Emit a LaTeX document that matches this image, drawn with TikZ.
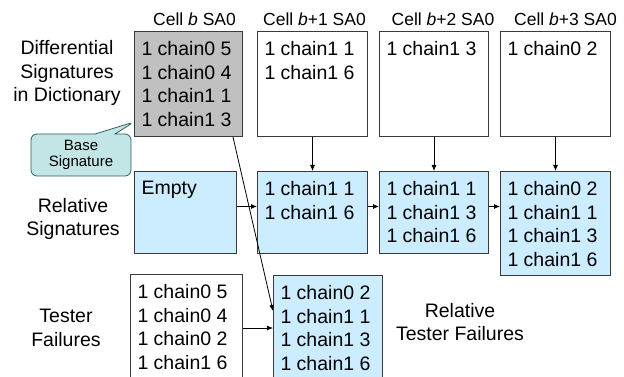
\documentclass[tikz,border=0pt]{standalone}
\usepackage{fontspec}
\setmainfont{Liberation Sans}
\usetikzlibrary{positioning,arrows.meta,shapes.callouts}

\definecolor{boxline}{HTML}{3A3A3A}
\definecolor{sigfill}{HTML}{C0C0C0}
\definecolor{relfill}{HTML}{CCECFF}
\definecolor{notefill}{HTML}{C2E5E5}
\definecolor{noteline}{HTML}{2F5F5F}

\newcommand{\sig}[3]{\parbox[t][#2pt][t]{#1pt}{#3}}

\begin{document}
\begin{tikzpicture}[x=1pt,y=-1pt]
\tikzstyle{cell}=[draw=boxline,line width=1pt,anchor=north west,inner xsep=7pt,inner ysep=10pt,font=\fontsize{19.5}{23.5}\selectfont]
\tikzstyle{rel}=[cell,fill=relfill]
\tikzstyle{head}=[font=\fontsize{17.5}{21}\selectfont]
\tikzstyle{caption}=[align=center,font=\fontsize{19.5}{23.5}\selectfont]
\tikzstyle{link}=[->,>={Latex[length=6pt,width=5pt]},line width=0.8pt]
\useasboundingbox (0,0) rectangle (624,377);
\clip (0,0) rectangle (624,377);

\node[cell,fill=sigfill] (c0) at (134,31) {\sig{94}{85}{1 chain0 5\\1 chain0 4\\1 chain1 1\\1 chain1 3}};
\node[cell,below right=0pt and 14pt of c0.north east] (c1) {\sig{96}{85}{1 chain1 1\\1 chain1 6}};
\node[cell,below right=0pt and 11pt of c1.north east] (c2) {\sig{95}{85}{1 chain1 3}};
\node[cell,below right=0pt and 11pt of c2.north east] (c3) {\sig{96}{85}{1 chain0 2}};

\node[head,above=5pt of c0.north,anchor=base,xshift=6pt] (h0) {Cell \textit{b} SA0};
\node[head,above=5pt of c1.north,anchor=base,xshift=2pt] (h1) {Cell \textit{b}+1 SA0};
\node[head,above=5pt of c2.north,anchor=base,xshift=9pt] (h2) {Cell \textit{b}+2 SA0};
\node[head,above=5pt of c3.north,anchor=base,xshift=10pt] (h3) {Cell \textit{b}+3 SA0};

\node[rel,below right=34pt and 0pt of c0.south west] (r0) {\sig{88}{62}{Empty}};
\node[rel,below=34pt of c1] (r1) {\sig{96}{62}{1 chain1 1\\1 chain1 6}};
\node[rel,below=34pt of c2] (r2) {\sig{95}{62}{1 chain1 1\\1 chain1 3\\1 chain1 6}};
\node[rel,below=34pt of c3] (r3) {\sig{96}{84}{1 chain0 2\\1 chain1 1\\1 chain1 3\\1 chain1 6}};

\node[cell,below right=20pt and -4pt of r0.south west] (t0) {\sig{98}{100}{1 chain0 5\\1 chain0 4\\1 chain0 2\\1 chain1 6}};
\node[rel,below right=1pt and 30pt of t0.north east] (t1) {\sig{95}{100}{1 chain0 2\\1 chain1 1\\1 chain1 3\\1 chain1 6}};

\node[caption] (dict) at (67,73) {Differential\\Signatures\\in Dictionary};
\node[caption] (relsig) at (73,219) {Relative\\Signatures};
\node[caption] (tester) at (66,328) {Tester\\Failures};
\node[caption] (reltest) at (460,322) {Relative\\Tester Failures};

\node[draw=noteline,fill=notefill,line width=0.8pt,rectangle callout,rounded corners=6pt,
  minimum width=100pt,minimum height=42pt,align=center,font=\fontsize{15}{16}\selectfont,
  callout absolute pointer={([yshift=15pt]c0.south west)},callout pointer width=20pt] (base) at (81,155) {Base\\Signature};

\draw[link] (c1) -- (r1);
\draw[link] (c2) -- (r2);
\draw[link] (c3) -- (r3);
\draw[link] ([yshift=6pt]r0.east) -- ([yshift=6pt]r1.west);
\draw[link] ([yshift=6pt]r1.east) -- ([yshift=6pt]r2.west);
\draw[link] ([yshift=6pt]r2.east) -- ([yshift=6pt]r2.east -| r3.west);
\draw[link] ([yshift=-54pt]t0.north east) -- ([yshift=-54pt]t0.north east -| t1.west);
\draw[link] ([xshift=-10pt]c0.south east) -- ([yshift=-36pt]t1.north west);
\end{tikzpicture}
\end{document}
